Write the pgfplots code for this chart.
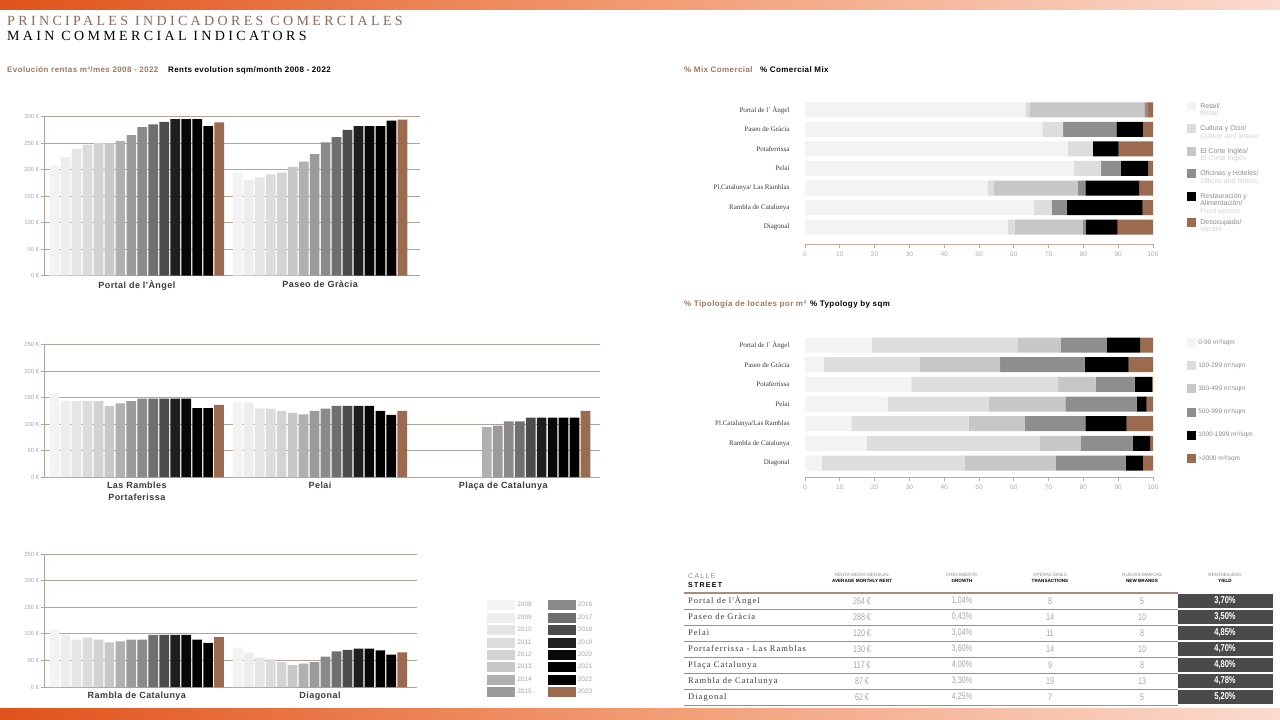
\documentclass[border=0pt]{standalone}
\usepackage{fontspec}
\setmainfont{Liberation Sans}
\newfontfamily\serifF{Liberation Serif}
\newfontfamily\serifS[LetterSpace=12]{Liberation Serif}
\newfontfamily\titleF[LetterSpace=24]{Liberation Serif}
\newfontfamily\condF[FakeStretch=0.75]{Liberation Sans}
\newfontfamily\spacedF[LetterSpace=5]{Liberation Sans}
\newfontfamily\wideF[LetterSpace=18]{Liberation Sans}
\usepackage{pgfplots}
\usepackage{pgfplotstable}
\pgfplotsset{compat=1.18}

\definecolor{c0}{HTML}{F3F3F3}
\definecolor{c1}{HTML}{EDEDED}
\definecolor{c2}{HTML}{E5E5E5}
\definecolor{c3}{HTML}{DCDCDC}
\definecolor{c4}{HTML}{D3D3D3}
\definecolor{c5}{HTML}{C8C8C8}
\definecolor{c6}{HTML}{B0B0B0}
\definecolor{c7}{HTML}{9B9B9B}
\definecolor{c8}{HTML}{8A8A8A}
\definecolor{c9}{HTML}{6F6F6F}
\definecolor{c10}{HTML}{4C4C4C}
\definecolor{c11}{HTML}{1F1F1F}
\definecolor{c12}{HTML}{080808}
\definecolor{c13}{HTML}{000000}
\definecolor{c14}{HTML}{000000}
\definecolor{c15}{HTML}{9C6A4E}
\definecolor{gridc}{HTML}{B3A398}
\definecolor{tickc}{HTML}{A8A8A8}
\definecolor{grpc}{HTML}{3C3C3C}
\definecolor{titlebrown}{HTML}{8A6A5B}
\definecolor{subbrown}{HTML}{A0785F}
\definecolor{axbrown}{HTML}{C4A898}
\definecolor{ticklbl}{HTML}{B5A89F}
\definecolor{darkc}{HTML}{3A3A3A}
\definecolor{legc}{HTML}{8C8C8C}
\definecolor{leg2}{HTML}{D2D2D2}
\definecolor{m0}{HTML}{F3F3F3}
\definecolor{m1}{HTML}{DDDDDD}
\definecolor{m2}{HTML}{C7C7C7}
\definecolor{m3}{HTML}{8E8E8E}
\definecolor{m4}{HTML}{000000}
\definecolor{m5}{HTML}{9C6A4E}
\definecolor{tablec}{HTML}{A88C7C}
\definecolor{yieldc}{HTML}{4A4A4A}
\definecolor{valc}{HTML}{A5A5A5}
\definecolor{orA}{HTML}{E0531A}
\definecolor{orB}{HTML}{F29B72}
\definecolor{orC}{HTML}{FADBCF}

% Rents per m2/month, one column per year 2008..2023 (y0..y15); g = group offset
\pgfplotstableread{
g y0 y1 y2 y3 y4 y5 y6 y7 y8 y9 y10 y11 y12 y13 y14 y15
0 207 224 239 247 250 250 254 265 280 285 290 295 295 295 282 289
16.7 193 180 185 191 194 205 215 229 251 261 275 282 282 282 292 294
}\rentA
\pgfplotstableread{
g y0 y1 y2 y3 y4 y5 y6 y7 y8 y9 y10 y11 y12 y13 y14 y15
0 158 143 143 143 143 134 139 143 148 148 148 148 148 130 130 136
16.7 141 141 129 129 125 121 118 125 129 134 134 134 134 125 117 125
33.4 nan nan nan nan nan nan 94 97 105 105 112 112 112 112 112 125
}\rentB
\pgfplotstableread{
g y0 y1 y2 y3 y4 y5 y6 y7 y8 y9 y10 y11 y12 y13 y14 y15
0 108 98 89 93 89 84 86 89 89 98 98 98 98 89 83 94
16.7 74 64 55 52 47 41 44 47 57 67 70 72 72 69 61 65
}\rentC
% % Mix comercial (row 6 = Portal de l'Angel ... row 0 = Diagonal)
\pgfplotstableread{
row a b c d e f
6 63.3 1.2 33.0 1.0 0 1.5
5 68.2 6.0 0 15.3 7.6 2.9
4 75.5 7.2 0 0 7.4 9.9
3 77.2 7.9 0 5.6 8.0 1.3
2 52.4 1.9 24.1 2.2 15.5 3.9
1 65.7 5.2 0 4.3 21.8 3.0
0 58.2 2.0 19.6 0.9 9.1 10.2
}\mixtab
% % Typology by sqm
\pgfplotstableread{
row a b c d e f
6 19.3 41.7 12.5 13.2 9.7 3.6
5 5.5 27.5 23.1 24.3 12.6 7.0
4 30.6 42.0 10.9 11.2 5.0 0.3
3 23.8 29.1 21.9 20.5 2.9 1.8
2 13.3 33.7 16.2 17.4 11.8 7.6
1 17.7 49.8 11.8 14.9 5.0 0.8
0 4.8 41.2 26.1 20.0 5.0 2.9
}\typtab

\pgfplotsset{
  rentpanel/.style={
    scale only axis, ybar, bar width=9.7pt, ymin=0, xmin=-0.96,
    axis y line*=left, axis x line*=bottom,
    axis line style={-},
    x axis line style={draw=none},
    y axis line style={draw=gridc, line width=0.7pt},
    xtick style={draw=none},
    ytick style={draw=gridc, line width=0.7pt},
    tick align=outside, major tick length=3pt,
    ymajorgrids, grid style={draw=gridc, line width=0.8pt},
    yticklabel style={font=\fontsize{6}{7}\selectfont, text=tickc, inner sep=1.5pt},
    xticklabel style={font=\spacedF\bfseries\fontsize{9}{11.5}\selectfont, text=grpc, align=center, inner sep=2pt},
  },
  hbar/.style={
    scale only axis, xbar stacked, bar width=15pt, xmin=0, xmax=100,
    axis x line*=bottom, axis y line*=left,
    axis line style={-},
    y axis line style={draw=none}, ytick style={draw=none},
    x axis line style={draw=axbrown, line width=0.7pt},
    xtick={0,10,...,100}, xtick style={draw=axbrown, line width=0.7pt},
    tick align=outside, major tick length=4pt,
    xticklabel style={font=\fontsize{6.5}{7}\selectfont, text=ticklbl},
    /pgf/number format/assume math mode=true,
    yticklabel style={font=\serifF\fontsize{7}{8}\selectfont, text=darkc, xshift=-8pt},
    ytick={0,...,6}, ymin=-0.8, ymax=6.5,
    every axis plot/.append style={draw=none},
    legend cell align=left,
  },
}

\newcommand\trow[7]{%
  \node[anchor=west, inner sep=0pt, font=\serifS\fontsize{8.5}{9}\selectfont, text=darkc] at (688pt,-#1pt) {#2};
  \node[inner sep=0pt, font=\condF\fontsize{9.5}{10}\selectfont, text=valc] at (862pt,-#1pt) {#3};
  \node[inner sep=0pt, font=\condF\fontsize{9.5}{10}\selectfont, text=valc] at (962pt,-#1pt) {#4};
  \node[inner sep=0pt, font=\condF\fontsize{9.5}{10}\selectfont, text=valc] at (1050pt,-#1pt) {#5};
  \node[inner sep=0pt, font=\condF\fontsize{9.5}{10}\selectfont, text=valc] at (1142pt,-#1pt) {#6};
  \fill[yieldc] (1178pt,{-#1pt+7.3pt}) rectangle (1273pt,{-#1pt-7.3pt});
  \node[inner sep=0pt, font=\condF\bfseries\fontsize{10}{11}\selectfont, text=white] at (1225pt,-#1pt) {#7};
}
\newcommand\subline[1]{\addlegendimage{empty legend}\addlegendentry{\color{leg2}#1}}
\newcommand\blankline{\addlegendimage{empty legend}\addlegendentry{}}

\begin{document}
\begin{tikzpicture}
\path[use as bounding box, fill=white] (0pt,0pt) rectangle (1280pt,-720pt);
% gradient bands
\shade[left color=orA, right color=orB] (0pt,0pt) rectangle (640.5pt,-9pt);
\shade[left color=orB, right color=orC] (640pt,0pt) rectangle (1280pt,-9pt);
\shade[left color=orA, right color=orB] (0pt,-708pt) rectangle (640.5pt,-720pt);
\shade[left color=orB, right color=orC] (640pt,-708pt) rectangle (1280pt,-720pt);

% titles
\node[anchor=base west, inner sep=0pt, text=titlebrown, font=\titleF\fontsize{14}{15}\selectfont] at (7pt,-25.7pt) {PRINCIPALES INDICADORES COMERCIALES};
\node[anchor=base west, inner sep=0pt, text=black, font=\titleF\fontsize{14}{15}\selectfont] at (7pt,-40.7pt) {MAIN COMMERCIAL INDICATORS};
\node[anchor=base west, inner sep=0pt, text=subbrown, font=\spacedF\bfseries\fontsize{8}{9}\selectfont] at (7pt,-72pt) {Evolución rentas m²/mes 2008 - 2022};
\node[anchor=base west, inner sep=0pt, text=black, font=\spacedF\bfseries\fontsize{8}{9}\selectfont] at (168pt,-72pt) {Rents evolution sqm/month 2008 - 2022};
\node[anchor=base west, inner sep=0pt, text=subbrown, font=\spacedF\bfseries\fontsize{8}{9}\selectfont] at (684pt,-72pt) {\% Mix Comercial};
\node[anchor=base west, inner sep=0pt, text=black, font=\spacedF\bfseries\fontsize{8}{9}\selectfont] at (760pt,-72pt) {\% Comercial Mix};
\node[anchor=base west, inner sep=0pt, text=subbrown, font=\spacedF\bfseries\fontsize{8}{9}\selectfont] at (684pt,-306pt) {\% Tipología de locales por m²};
\node[anchor=base west, inner sep=0pt, text=black, font=\spacedF\bfseries\fontsize{8}{9}\selectfont] at (810pt,-306pt) {\% Typology by sqm};

% ---- rents: top panel
\begin{axis}[rentpanel, at={(44pt,-275.5pt)}, anchor=south west,
  width=376pt, height=159pt, xmax=33.3, ymax=300,
  ytick={0,50,...,300}, yticklabels={0 €,50 €,100 €,150 €,200 €,250 €,300 €},
  xtick={7.5,24.2}, xticklabels={Portal de l'Àngel,Paseo de Gràcia}]
\pgfplotsinvokeforeach{0,...,15}{
  \addplot[bar shift=0pt, fill=c#1, draw=none] table[x expr=\thisrow{g}+#1, y=y#1]{\rentA};
}
\end{axis}

% ---- rents: middle panel
\begin{axis}[rentpanel, at={(44pt,-477pt)}, anchor=south west,
  width=556pt, height=132.5pt, xmax=49.72, ymax=250,
  ytick={0,50,...,250}, yticklabels={0 €,50 €,100 €,150 €,200 €,250 €},
  xtick={7.5,24.2,40.9}, xticklabels={{Las Rambles\\Portaferissa},Pelai,Plaça de Catalunya}]
\pgfplotsinvokeforeach{0,...,15}{
  \addplot[bar shift=0pt, fill=c#1, draw=none] table[x expr=\thisrow{g}+#1, y=y#1]{\rentB};
}
\end{axis}

% ---- rents: bottom panel
\begin{axis}[rentpanel, at={(44pt,-687pt)}, anchor=south west,
  width=373pt, height=133pt, xmax=33.04, ymax=250,
  ytick={0,50,...,250}, yticklabels={0 €,50 €,100 €,150 €,200 €,250 €},
  xtick={7.5,24.2}, xticklabels={Rambla de Catalunya,Diagonal},
  legend columns=8, transpose legend,
  legend entries={2008,2009,2010,2011,2012,2013,2014,2015,2016,2017,2018,2019,2020,2021,2022,2023},
  legend image code/.code={\fill[#1] (0pt,-5pt) rectangle (28pt,5pt);},
  legend style={at={(1.188,0.654)}, anchor=north west, draw=none, fill=none, inner sep=0pt,
    row sep=2.4pt, font=\fontsize{6.5}{7}\selectfont, text=tickc,
    nodes={inner sep=2pt},
    /tikz/every even column/.append style={column sep=14pt}},
  legend cell align=left]
\pgfplotsinvokeforeach{0,...,15}{
  \addplot[bar shift=0pt, fill=c#1, draw=none] table[x expr=\thisrow{g}+#1, y=y#1]{\rentC};
}
\end{axis}

% ---- commercial mix
\begin{axis}[hbar, at={(805pt,-244pt)}, anchor=south west, width=348pt, height=144pt,
  ymin=-0.87, ymax=6.51,
  yticklabels={Diagonal,Rambla de Catalunya,Pl.Catalunya/ Las Ramblas,Pelai,Potaferrissa,Paseo de Gràcia,Portal de l´ Àngel},
  legend image code/.code={\fill[#1, overlay] (0pt,-2.5pt) rectangle (9pt,6.5pt); \path (0pt,0pt) rectangle (9pt,1pt);},
  legend style={at={(1.098,0.983)}, anchor=north west, draw=none, fill=none, inner sep=0pt,
    row sep=0pt, font=\fontsize{7}{7.5}\selectfont, text=legc,
    nodes={inner sep=0pt, text height=5.5pt, text depth=2pt}, cells={anchor=base west},
    /tikz/every odd column/.append style={column sep=4pt}}]
\addplot[fill=m0] table[x=a,y=row]{\mixtab};
\addlegendentry{Retail/}
\subline{Retail}\blankline
\addplot[fill=m1] table[x=b,y=row]{\mixtab};
\addlegendentry{Cultura y Ocio/}
\subline{Culture and leisure}\blankline
\addplot[fill=m2] table[x=c,y=row]{\mixtab};
\addlegendentry{El Corte Inglés/}
\subline{El Corte Inglés}\blankline
\addplot[fill=m3] table[x=d,y=row]{\mixtab};
\addlegendentry{Oficinas y Hoteles/}
\subline{Offices and Hotels}\blankline
\addplot[fill=m4] table[x=e,y=row]{\mixtab};
\addlegendentry{Restauración y}
\addlegendimage{empty legend}\addlegendentry{Alimentación/}
\subline{Food service}
\addlegendimage{empty legend}\addlegendentry[text height=2.5pt, text depth=1pt]{}
\addplot[fill=m5] table[x=f,y=row]{\mixtab};
\addlegendentry{Desocupado/}
\subline{Vacant}
\end{axis}

% ---- typology by sqm
\begin{axis}[hbar, at={(805pt,-477pt)}, anchor=south west, width=348pt, height=142pt,
  ymin=-0.71, ymax=6.51,
  yticklabels={Diagonal,Rambla de Catalunya,Pl.Catalunya/Las Ramblas,Pelai,Potaferrissa,Paseo de Gràcia,Portal de l´ Àngel},
  legend image code/.code={\fill[#1] (0pt,-4.5pt) rectangle (9pt,4.5pt);},
  legend style={at={(1.098,0.985)}, anchor=north west, draw=none, fill=none, inner sep=0pt,
    row sep=13pt, font=\fontsize{6.5}{7}\selectfont, text=legc,
    nodes={inner sep=2pt}}]
\addplot[fill=m0] table[x=a,y=row]{\typtab};
\addlegendentry{0-99 m²/sqm}
\addplot[fill=m1] table[x=b,y=row]{\typtab};
\addlegendentry{100-299 m²/sqm}
\addplot[fill=m2] table[x=c,y=row]{\typtab};
\addlegendentry{300-499 m²/sqm}
\addplot[fill=m3] table[x=d,y=row]{\typtab};
\addlegendentry{500-999 m²/sqm}
\addplot[fill=m4] table[x=e,y=row]{\typtab};
\addlegendentry{1000-1999 m²/sqm}
\addplot[fill=m5] table[x=f,y=row]{\typtab};
\addlegendentry{>2000 m²/sqm}
\end{axis}

% ---- table
\node[anchor=base west, inner sep=0pt, text=legc, font=\wideF\fontsize{7}{8}\selectfont] at (688pt,-578.5pt) {CALLE};
\node[anchor=base west, inner sep=0pt, text=black, font=\wideF\bfseries\fontsize{7}{8}\selectfont] at (688pt,-587.5pt) {STREET};
\foreach \cx/\la/\lb in {862/RENTA MEDIA MENSUAL/AVERAGE MONTHLY RENT, 962/CRECIMIENTO/GROWTH, 1050/OPERACIONES/TRANSACTIONS, 1142/NUEVAS MARCAS/NEW BRANDS, 1225/RENTABILIDAD/YIELD}{
  \node[anchor=base, inner sep=0pt, text=legc, font=\fontsize{4.6}{5}\selectfont] at (\cx pt,-576.5pt) {\la};
  \node[anchor=base, inner sep=0pt, text=black, font=\bfseries\fontsize{4.6}{5}\selectfont] at (\cx pt,-582pt) {\lb};
}
\draw[tablec, line width=1.1pt] (684pt,-593pt) -- (1178pt,-593pt);
\foreach \yy in {609,625,641,657,673,689,705}{
  \draw[tablec, line width=0.8pt] (684pt,{-\yy*1pt}) -- (1178pt,{-\yy*1pt});
}
\trow{601}{Portal de l'Àngel}{264 €}{1,04\%}{8}{5}{3,70\%}
\trow{617}{Paseo de Gràcia}{288 €}{0,43\%}{14}{10}{3,50\%}
\trow{633}{Pelai}{120 €}{3,04\%}{11}{8}{4,85\%}
\trow{649}{Portaferrissa - Las Ramblas}{130 €}{3,60\%}{14}{10}{4,70\%}
\trow{665}{Plaça Catalunya}{117 €}{4,00\%}{9}{8}{4,80\%}
\trow{681}{Rambla de Catalunya}{87 €}{3,30\%}{19}{13}{4,78\%}
\trow{697}{Diagonal}{62 €}{4,25\%}{7}{5}{5,20\%}
\end{tikzpicture}
\end{document}
